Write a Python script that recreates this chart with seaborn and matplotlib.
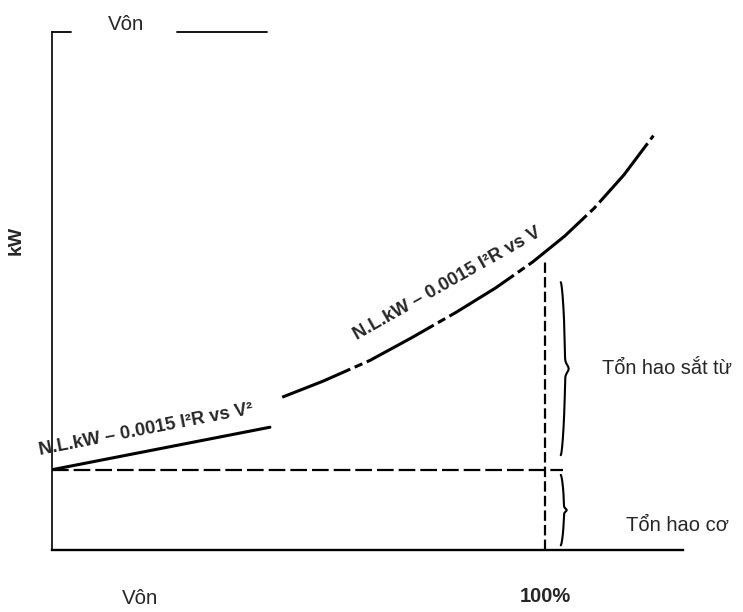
import numpy as np
import pandas as pd
import matplotlib
matplotlib.use("Agg")
import matplotlib.pyplot as plt
import seaborn as sns

# Voltage (% of rated) against no-load input power (kW)
sq_volt = [0.0, 44.2]
sq_kw = [15.5, 23.7]
lin_volt = [46.7, 55.0, 64.5, 73.0, 82.0, 90.0, 97.5, 104.0, 110.0, 116.0, 122.0]
lin_kw = [29.5, 32.6, 36.6, 41.0, 45.9, 50.6, 55.6, 60.6, 66.0, 72.4, 80.0]
rated_volt = 100.0
mech_loss_kw = 15.5
rated_guide_top = 55.6
guide_right = 103.6
x_ticks = [100.0]
x_tick_labels = ["100%"]

label_sq = "N.L.kW – 0.0015 I²R vs V²"
label_lin = "N.L.kW – 0.0015 I²R vs V"
label_iron = "Tổn hao sắt từ"
label_mech = "Tổn hao cơ"
x_label = "Vôn"
y_label = "kW"

sns.set_style("white")
plt.rcParams["font.family"] = ["Liberation Sans", "DejaVu Sans"]
plt.rcParams["lines.scale_dashes"] = False

W, H = 743, 612
fig = plt.figure(figsize=(W / 100, H / 100), dpi=100)
ax = fig.add_axes([52 / W, 62 / H, 631 / W, 518 / H])
ax.set_xlim(0, 128.0)
ax.set_ylim(0, 100)

sq_df = pd.DataFrame({"volt": sq_volt, "kw": sq_kw})
lin_df = pd.DataFrame({"volt": lin_volt, "kw": lin_kw})

# no-load curve against V squared (low range) and against V (upper range)
sns.lineplot(data=sq_df, x="volt", y="kw", ax=ax, color="black", lw=2.2,
             estimator=None, sort=False)
sns.lineplot(data=lin_df, x="volt", y="kw", ax=ax, color="black", lw=2.2,
             estimator=None, sort=False, linestyle=(2, (55, 3.5, 6, 3.5)))

# mechanical-loss level and rated-voltage guide
ax.plot([0, guide_right], [mech_loss_kw, mech_loss_kw], color="black", lw=1.6,
        linestyle=(0, (12, 3.6)))
ax.plot([rated_volt, rated_volt], [0, rated_guide_top], color="black", lw=1.6,
        linestyle=(0, (7.5, 3)))


def brace(x0, y0, y1, w):
    s = np.linspace(0, 1, 200)
    u = np.abs(2 * s - 1)
    xs = x0 + w * (0.55 * np.sin(np.pi * (1 - u) / 2) ** 0.6
                   + 0.45 * np.exp(-(u / 0.06) ** 2))
    ys = y0 + (y1 - y0) * s
    ax.plot(xs, ys, color="black", lw=1.5, solid_capstyle="round")


brace(103.2, 18.3, 51.7, 1.6)
brace(103.2, 0.9, 14.5, 1.2)

# axes frame
for side in ["top", "right"]:
    ax.spines[side].set_visible(False)
ax.spines["left"].set_linewidth(1.2)
ax.spines["bottom"].set_linewidth(1.7)
for sp in ["left", "bottom"]:
    ax.spines[sp].set_color("black")
ax.plot([0, 0.030], [1, 1], transform=ax.transAxes, color="black", lw=1.3,
        clip_on=False)
ax.plot([0.198, 0.341], [1, 1], transform=ax.transAxes, color="black", lw=1.3,
        clip_on=False)

ax.set_xticks(x_ticks, x_tick_labels, fontsize=14.5, fontweight="bold")
ax.set_yticks([])
ax.tick_params(axis="x", length=0, pad=27)
ax.set_xlabel("")
ax.set_ylabel(y_label, fontsize=14, fontweight="bold")
ax.yaxis.set_label_coords(-0.043, 0.598)

ax.text(-2.4, 18.3, label_sq, rotation=11, rotation_mode="anchor",
        ha="left", va="baseline", fontsize=13.2, fontweight="bold",
        clip_on=False)
ax.text(61.9, 40.6, label_lin, rotation=29.5, rotation_mode="anchor",
        ha="left", va="baseline", fontsize=13.3, fontweight="bold",
        clip_on=False)
ax.text(111.6, 35.1, label_iron, ha="left", va="center", fontsize=14.4)
ax.text(116.4, 4.8, label_mech, ha="left", va="center", fontsize=14.5)

fig.text(126 / W, 1 - 24 / H, x_label, ha="center", va="center", fontsize=14.8)
fig.text(140 / W, 1 - 598 / H, x_label, ha="center", va="center", fontsize=14.8)

fig.savefig("out.png", dpi=100)
